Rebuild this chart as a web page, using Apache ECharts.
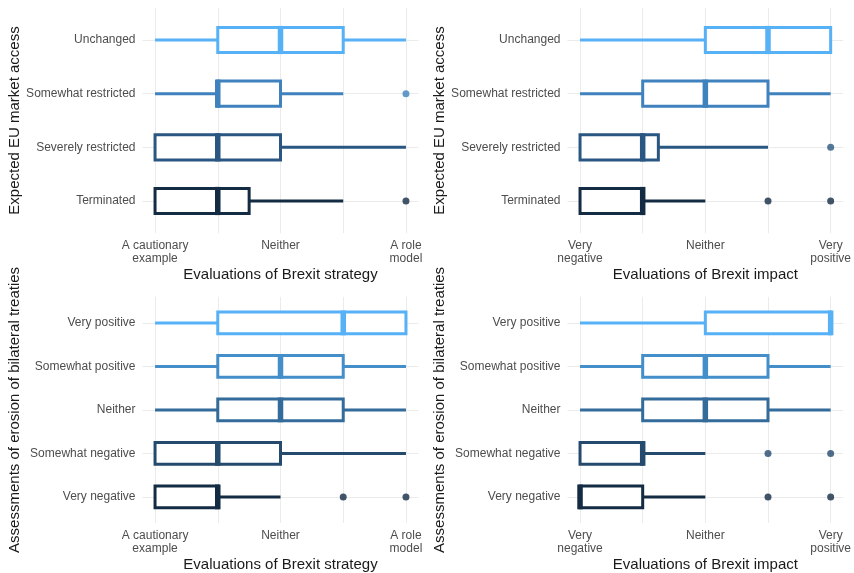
<!DOCTYPE html>
<html>
<head>
<meta charset="utf-8">
<title>Brexit evaluations</title>
<script src="https://cdn.jsdelivr.net/npm/echarts@6/dist/echarts.min.js"></script>
<style>
  html, body { margin: 0; padding: 0; background: #fff; }
  #chart { width: 854px; height: 573px; }
</style>
</head>
<body>
<div id="chart"></div>
<script>
// Response categories, listed bottom to top
const accessLevels = ['Terminated', 'Severely restricted', 'Somewhat restricted', 'Unchanged'];
const erosionLevels = ['Very negative', 'Somewhat negative', 'Neither', 'Somewhat positive', 'Very positive'];

// Tick labels at scale points 1, 3, 5
const strategyTicks = ['A cautionary\nexample', 'Neither', 'A role\nmodel'];
const impactTicks = ['Very\nnegative', 'Neither', 'Very\npositive'];

// Box statistics per category: [min, q1, median, q3, max]
const strategyByAccess = [[1, 1, 2, 2.5, 4], [1, 1, 2, 3, 5], [1, 2, 2, 3, 4], [1, 2, 3, 4, 5]];
const impactByAccess = [[1, 1, 2, 2, 3], [1, 1, 2, 2.25, 4], [1, 2, 3, 4, 5], [1, 3, 4, 5, 5]];
const strategyByErosion = [[1, 1, 2, 2, 3], [1, 1, 2, 3, 5], [1, 2, 3, 4, 5], [1, 2, 3, 4, 5], [1, 2, 4, 5, 5]];
const impactByErosion = [[1, 1, 1, 2, 3], [1, 1, 2, 2, 3], [1, 2, 3, 4, 5], [1, 2, 3, 4, 5], [1, 3, 5, 5, 5]];

// Outlying responses per category
const strategyByAccessOut = [[5], [], [5], []];
const impactByAccessOut = [[4, 5], [5], [], []];
const strategyByErosionOut = [[4, 5], [], [], [], []];
const impactByErosionOut = [[4, 5], [4, 5], [], [], []];

// Dark-to-light blue ramp
const accessColors = ['#132B43', '#2A5781', '#3F82BD', '#56B1F7'];
const erosionColors = ['#132B43', '#244A6E', '#336B9A', '#448ECA', '#56B1F7'];

const FONT = '"Liberation Sans", Arial, sans-serif';
const GRID_COLOR = '#EBEBEB';

const grids = [
  { left: 142.5, top: 7.8, width: 276, height: 225.4 },
  { left: 567.5, top: 7.8, width: 276, height: 225.4 },
  { left: 142.5, top: 296.8, width: 276, height: 227.5 },
  { left: 567.5, top: 296.8, width: 276, height: 227.5 }
];

function xAxisFor(gridIndex, ticks, title) {
  return {
    type: 'value', gridIndex, min: 0.8, max: 5.2,
    name: title, nameLocation: 'middle', nameGap: 34,
    nameTextStyle: { fontFamily: FONT, fontSize: 15, color: '#1A1A1A' },
    axisLine: { show: false },
    axisTick: { show: false, customValues: [1, 2, 3, 4, 5] },
    axisLabel: {
      customValues: [1, 3, 5],
      formatter: v => ticks[Math.round((v - 1) / 2)],
      fontFamily: FONT, fontSize: 12, color: '#4D4D4D', lineHeight: 13, margin: 6
    },
    splitLine: { show: true, lineStyle: { color: GRID_COLOR, width: 1 } }
  };
}

function yAxisFor(gridIndex, levels, title) {
  const vals = levels.map((_, i) => i + 1);
  return {
    type: 'value', gridIndex, min: 0.4, max: levels.length + 0.6,
    name: title, nameLocation: 'middle', nameGap: 120,
    nameTextStyle: { fontFamily: FONT, fontSize: 15, color: '#1A1A1A' },
    axisLine: { show: false },
    axisTick: { show: false, customValues: vals },
    axisLabel: {
      customValues: vals,
      formatter: v => levels[Math.round(v) - 1],
      fontFamily: FONT, fontSize: 12, color: '#4D4D4D', margin: 7
    },
    splitLine: { show: true, lineStyle: { color: GRID_COLOR, width: 1 } }
  };
}

function boxSeries(idx, stats, colors, half) {
  return {
    type: 'custom',
    xAxisIndex: idx, yAxisIndex: idx,
    data: stats.map((s, i) => [i + 1].concat(s)),
    encode: { x: [1, 2, 3, 4, 5], y: 0 },
    renderItem: (params, api) => {
      const y = api.value(0);
      const mn = api.value(1), q1 = api.value(2), md = api.value(3), q3 = api.value(4), mx = api.value(5);
      const c = colors[params.dataIndex];
      const pt = x => api.coord([x, y]);
      const kids = [];
      const seg = (a, b) => {
        const p1 = pt(a), p2 = pt(b);
        kids.push({ type: 'line', shape: { x1: p1[0], y1: p1[1], x2: p2[0], y2: p2[1] },
          style: { stroke: c, lineWidth: 3 } });
      };
      if (mn < q1) seg(mn, q1);
      if (mx > q3) seg(q3, mx);
      const tl = api.coord([q1, y + half]);
      const br = api.coord([q3, y - half]);
      kids.push({ type: 'rect',
        shape: { x: tl[0], y: tl[1], width: br[0] - tl[0], height: br[1] - tl[1] },
        style: { fill: '#fff', stroke: c, lineWidth: 3 } });
      const m1 = api.coord([md, y + half]);
      const m2 = api.coord([md, y - half]);
      kids.push({ type: 'line', shape: { x1: m1[0], y1: m1[1] - 1.5, x2: m2[0], y2: m2[1] + 1.5 },
        style: { stroke: c, lineWidth: 5.5 } });
      return { type: 'group', children: kids };
    }
  };
}

function outlierSeries(idx, outs, colors) {
  const data = [];
  outs.forEach((list, i) => list.forEach(v => data.push({ value: [v, i + 1], itemStyle: { color: colors[i] } })));
  return {
    type: 'scatter', xAxisIndex: idx, yAxisIndex: idx,
    symbolSize: 7, data, z: 3, silent: true
  };
}

const chart = echarts.init(document.getElementById('chart'), null, { renderer: 'canvas' });
chart.setOption({
  backgroundColor: '#fff',
  animation: false,
  grid: grids,
  xAxis: [
    xAxisFor(0, strategyTicks, 'Evaluations of Brexit strategy'),
    xAxisFor(1, impactTicks, 'Evaluations of Brexit impact'),
    xAxisFor(2, strategyTicks, 'Evaluations of Brexit strategy'),
    xAxisFor(3, impactTicks, 'Evaluations of Brexit impact')
  ],
  yAxis: [
    yAxisFor(0, accessLevels, 'Expected EU market access'),
    yAxisFor(1, accessLevels, 'Expected EU market access'),
    yAxisFor(2, erosionLevels, 'Assessments of erosion of bilateral treaties'),
    yAxisFor(3, erosionLevels, 'Assessments of erosion of bilateral treaties')
  ],
  series: [
    boxSeries(0, strategyByAccess, accessColors, 0.235),
    boxSeries(1, impactByAccess, accessColors, 0.235),
    boxSeries(2, strategyByErosion, erosionColors, 0.25),
    boxSeries(3, impactByErosion, erosionColors, 0.25),
    outlierSeries(0, strategyByAccessOut, accessColors),
    outlierSeries(1, impactByAccessOut, accessColors),
    outlierSeries(2, strategyByErosionOut, erosionColors),
    outlierSeries(3, impactByErosionOut, erosionColors)
  ]
});
</script>
</body>
</html>
